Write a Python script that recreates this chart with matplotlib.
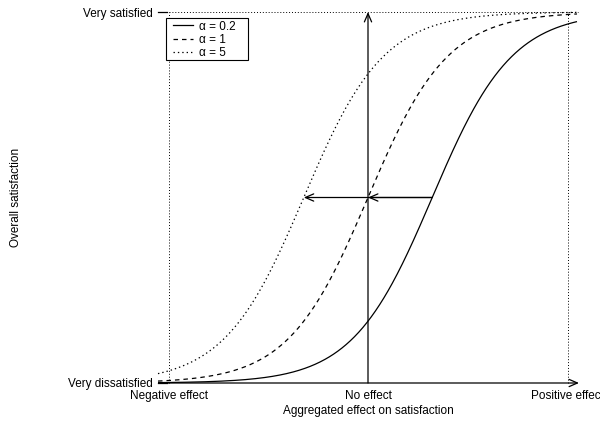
import numpy as np
import matplotlib
matplotlib.use("Agg")
import matplotlib.pyplot as plt
from matplotlib.patches import Rectangle

plt.rcParams['font.family'] = ['Liberation Sans', 'DejaVu Sans']

# Model parameters: satisfaction = 1 / (1 + exp(-k * effect) / alpha)
alphas = [0.2, 1, 5]
alpha_labels = ['α = 0.2', 'α = 1', 'α = 5']
steepness = 5.0

x_ticks = [-1, 0, 1]
x_tick_labels = ['Negative effect', 'No effect', 'Positive effect']
y_ticks = [0, 1]
y_tick_labels = ['Very dissatisfied', 'Very satisfied']

styles = ['solid', (0, (3.6, 3.2)), (0, (1.1, 2.4))]
FS = 8.5

W, H = 600, 424
fig = plt.figure(figsize=(W / 100, H / 100), dpi=100)
ax = fig.add_axes([0, 0, 1, 1])

# pixel layout of the drawing area
X0, XS = 368, 199.5   # pixel column of effect 0, pixels per unit
Y0, YS = 383, 371     # pixel row of satisfaction 0, pixels per unit
ax.set_xlim(-X0 / XS, (W - X0) / XS)
ax.set_ylim((Y0 - H) / YS, Y0 / YS)
ax.axis('off')


def dx(px):
    return (px - X0) / XS


def dy(py):
    return (Y0 - py) / YS


# guide lines
dot = dict(color='black', lw=0.7, linestyle=(0, (1, 2)))
ax.plot([x_ticks[0], x_ticks[0]], [y_ticks[0], y_ticks[1]], **dot)
ax.plot([x_ticks[2], x_ticks[2]], [y_ticks[0], y_ticks[1]], **dot)
ax.plot([x_ticks[0], dx(578)], [y_ticks[1], y_ticks[1]], **dot)

# response curves
x = np.linspace(dx(158), dx(577), 500)
for a, ls in zip(alphas, styles):
    y = 1.0 / (1.0 + np.exp(-steepness * x) / a)
    ax.plot(x, y, color='black', lw=0.9, linestyle=ls, solid_capstyle='butt')

arrow = dict(arrowstyle='->,head_length=6,head_width=2.6', color='black',
             lw=0.9, shrinkA=0, shrinkB=0, mutation_scale=1)

# axes as arrows
ax.annotate('', xy=(dx(579), 0), xytext=(dx(160), 0), arrowprops=arrow)
ax.annotate('', xy=(0, 1), xytext=(0, 0), arrowprops=arrow)

# shifts of the curve midpoint
mid = [np.log(1.0 / a) / steepness for a in alphas]
ax.annotate('', xy=(mid[1], 0.5), xytext=(mid[0], 0.5), arrowprops=arrow)
ax.annotate('', xy=(mid[2], 0.5), xytext=(mid[0], 0.5), arrowprops=arrow)

# y ticks and labels
for v, lab in zip(y_ticks, y_tick_labels):
    ax.plot([dx(158), dx(167)], [v, v], color='black', lw=0.9)
    ax.text(dx(153), v, lab, ha='right', va='center_baseline', fontsize=FS)

# x labels
for t, lab in zip(x_ticks, x_tick_labels):
    ax.text(t, dy(396), lab, ha='center', va='center', fontsize=FS)

ax.text(0, dy(411), 'Aggregated effect on satisfaction', ha='center',
        va='center', fontsize=FS)
ax.text(dx(16), 0.5, 'Overall satisfaction', ha='center', va='center',
        rotation=90, fontsize=FS)

# legend
ax.add_patch(Rectangle((dx(166), dy(60)), dx(248) - dx(166), dy(18) - dy(60),
                       facecolor='white', edgecolor='black', lw=0.8, zorder=5))
for i, (lab, ls) in enumerate(zip(alpha_labels, styles)):
    yy = dy(25 + 13.5 * i)
    ax.plot([dx(173), dx(193)], [yy, yy], color='black', lw=0.9,
            linestyle=ls, zorder=6)
    ax.text(dx(199), yy, lab, ha='left', va='center_baseline', fontsize=FS,
            zorder=6)

fig.savefig('out.png', dpi=100)
